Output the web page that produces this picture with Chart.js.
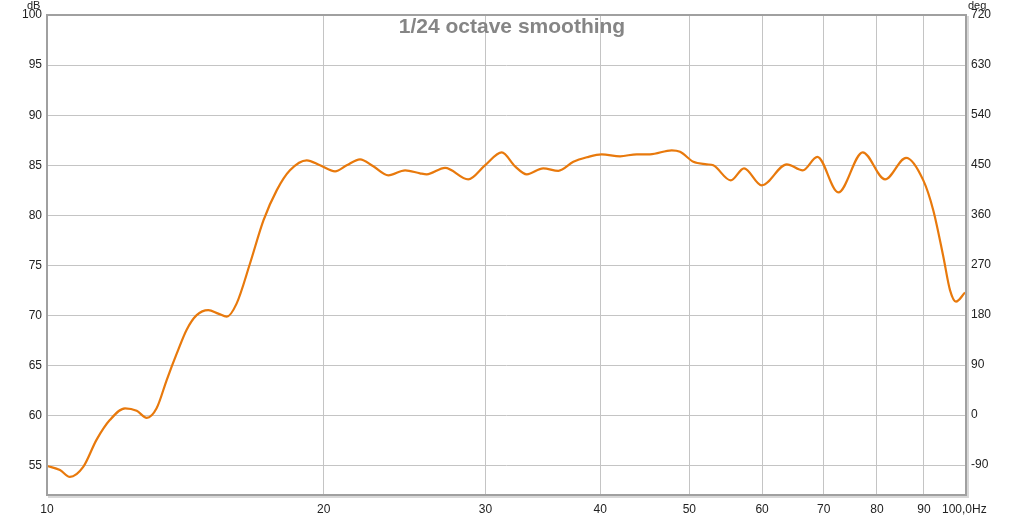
<!DOCTYPE html>
<html>
<head>
<meta charset="utf-8">
<script src="https://cdn.jsdelivr.net/npm/chart.js@4/dist/chart.umd.min.js"></script>
<style>
  html, body { margin: 0; padding: 0; background: #fff; }
  #wrap { width: 1024px; height: 517px; }
</style>
</head>
<body>
<div id="wrap"><canvas id="myChart"></canvas></div>
<script>
// frequency (Hz) and SPL (dB)
var freqs = [10.0, 10.33, 10.59, 10.95, 11.32, 11.71, 12.16, 12.52, 12.84, 13.16,
  13.50, 13.84, 14.19, 14.55, 14.98, 15.36, 15.69, 16.08, 16.63, 17.20,
  17.78, 18.38, 19.17, 19.82, 20.58, 21.19, 21.91, 22.65, 23.52, 24.53,
  25.46, 25.89, 27.11, 28.73, 29.96, 31.25, 32.31, 33.27, 34.67, 36.01,
  37.39, 38.67, 40.14, 42.03, 43.83, 45.31, 47.84, 48.85, 50.50, 52.22,
  53.09, 55.46, 57.34, 59.94, 63.82, 66.43, 68.90, 72.62, 77.20, 81.64,
  86.06, 89.86, 92.14, 94.47, 96.07, 97.52, 99.75];
var spl = [55.0, 54.6, 53.9, 54.9, 57.6, 59.6, 60.75, 60.5, 59.8, 60.75,
  63.6, 66.2, 68.6, 70.05, 70.55, 70.2, 69.9, 71.2, 75.2, 79.5,
  82.5, 84.5, 85.5, 85.0, 84.4, 85.0, 85.6, 84.9, 84.0, 84.5,
  84.2, 84.1, 84.75, 83.6, 85.0, 86.3, 84.9, 84.1, 84.7, 84.45,
  85.35, 85.8, 86.1, 85.9, 86.1, 86.1, 86.5, 86.35, 85.35, 85.1,
  85.0, 83.5, 84.7, 83.0, 85.1, 84.5, 85.85, 82.3, 86.3, 83.6,
  85.75, 83.5, 80.5, 75.9, 72.55, 71.4, 72.3];

var xTicks = [10, 20, 30, 40, 50, 60, 70, 80, 90, 100];
var dbTicks = [55, 60, 65, 70, 75, 80, 85, 90, 95, 100];
var degTicks = [-90, 0, 90, 180, 270, 360, 450, 540, 630, 720];

var points = [];
for (var i = 0; i < freqs.length; i++) {
  points.push({x: freqs[i], y: spl[i]});
}

var FONT = {family: "'Liberation Sans', Arial, sans-serif", size: 12};

var extras = {
  id: 'extras',
  afterDatasetsDraw: function(chart) {
    var ctx = chart.ctx;
    var a = chart.chartArea;
    ctx.save();
    // frame with a soft shadow
    ctx.strokeStyle = '#d8d8d8';
    ctx.lineWidth = 2;
    ctx.beginPath();
    ctx.moveTo(a.left + 1, a.bottom + 2);
    ctx.lineTo(a.right + 2, a.bottom + 2);
    ctx.lineTo(a.right + 2, a.top + 1);
    ctx.stroke();
    ctx.strokeStyle = '#a0a0a0';
    ctx.lineWidth = 2;
    ctx.strokeRect(a.left, a.top, a.right - a.left, a.bottom - a.top);
    // title
    ctx.fillStyle = '#858585';
    ctx.font = "bold 21px 'Liberation Sans', Arial, sans-serif";
    ctx.textAlign = 'center';
    ctx.textBaseline = 'middle';
    ctx.fillText('1/24 octave smoothing', 512, 27);
    // unit labels
    ctx.fillStyle = '#222';
    ctx.font = "11px 'Liberation Sans', Arial, sans-serif";
    ctx.textAlign = 'left';
    ctx.textBaseline = 'alphabetic';
    ctx.fillText('dB', 27, 9);
    ctx.fillText('deg', 968, 9);
    ctx.restore();
  }
};

window.onload = function() {
  var ctx = document.getElementById('myChart').getContext('2d');
  new Chart(ctx, {
    type: 'line',
    data: {
      datasets: [{
        data: points,
        borderColor: '#e8790c',
        borderWidth: 2.2,
        pointRadius: 0,
        fill: false,
        cubicInterpolationMode: 'monotone'
      }]
    },
    options: {
      animation: false,
      responsive: true,
      maintainAspectRatio: false,
      layout: {padding: {top: 15, right: 0, left: 0, bottom: 0}},
      plugins: {legend: {display: false}, tooltip: {enabled: false}},
      scales: {
        x: {
          type: 'logarithmic',
          min: 10, max: 100,
          afterBuildTicks: function(s) { s.ticks = xTicks.map(function(v) { return {value: v}; }); },
          afterFit: function(s) { s.height = 22; },
          grid: {color: '#c4c4c4', drawTicks: false},
          border: {display: false},
          ticks: {
            font: FONT, color: '#222', padding: 7, maxRotation: 0, autoSkip: false,
            callback: function(v) { return v === 100 ? '100,0Hz ' : String(v); }
          }
        },
        y: {
          position: 'left',
          min: 52.1, max: 100,
          afterBuildTicks: function(s) { s.ticks = dbTicks.map(function(v) { return {value: v}; }); },
          afterFit: function(s) { s.width = 47; },
          grid: {color: '#c4c4c4', drawTicks: false},
          border: {display: false},
          ticks: {font: FONT, color: '#222', padding: 5}
        },
        y2: {
          position: 'right',
          min: -144, max: 720,
          afterBuildTicks: function(s) { s.ticks = degTicks.map(function(v) { return {value: v}; }); },
          afterFit: function(s) { s.width = 58; },
          grid: {display: false, drawTicks: false},
          border: {display: false},
          ticks: {font: FONT, color: '#222', padding: 5}
        }
      }
    },
    plugins: [extras]
  });
};
</script>
</body>
</html>
